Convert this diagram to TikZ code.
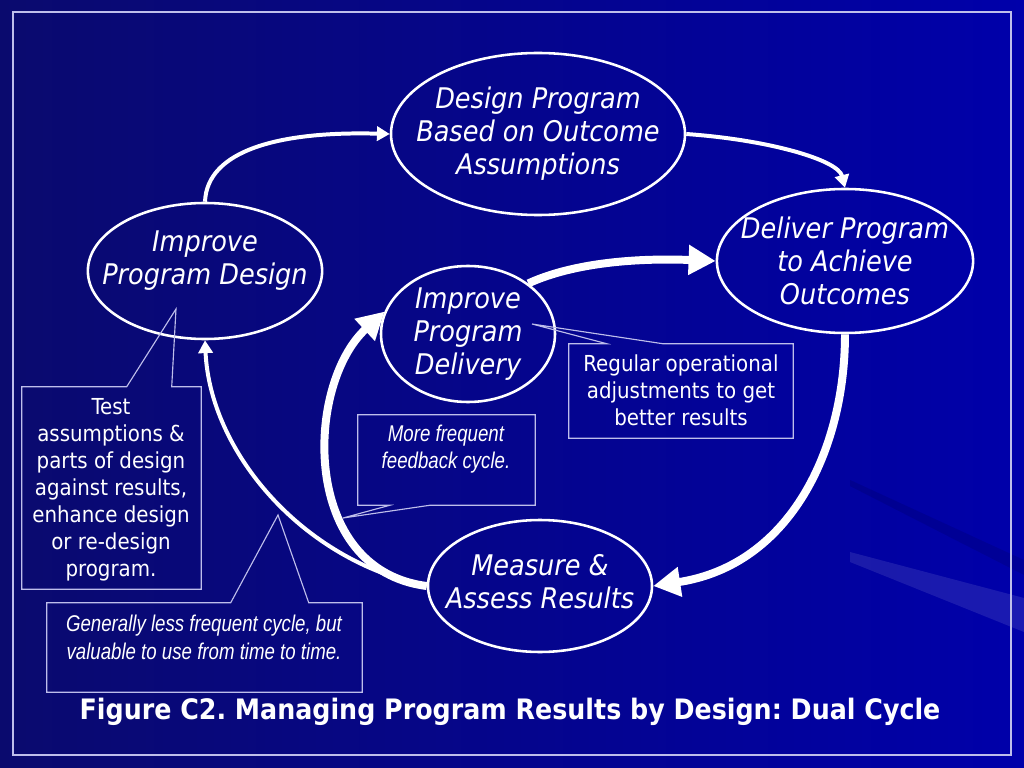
\documentclass[tikz,border=0pt]{standalone}
\usepackage{fontspec}
\setmainfont{DejaVu Sans Condensed}[ItalicFont={DejaVu Sans Condensed Oblique},BoldFont={DejaVu Sans Condensed Bold}]
\newfontfamily\narrowfont{Liberation Sans}[FakeStretch=0.82]
\usetikzlibrary{shapes.geometric,arrows.meta,calc,positioning}

\definecolor{slidedark}{RGB}{10,10,110}
\definecolor{slideblue}{RGB}{0,0,170}
\definecolor{framegray}{RGB}{190,190,235}
\newcommand\pxu{0.703125pt}

\tikzset{
  stage/.style={ellipse, draw=white, line width=1.8pt, text=white, inner sep=0pt, align=center,
    font=\fontsize{20}{23.2}\selectfont\itshape},
  note/.style={text=white, align=center, font=\fontsize{15.5}{19}\selectfont},
  quicknote/.style={text=white, align=center, font=\narrowfont\fontsize{16}{19.5}\selectfont\itshape},
  notebox/.style={inner sep=0pt},
  frame/.style={draw=framegray, line width=0.8pt},
  slow arrow/.style={draw=white, line width=2.8pt, -{Triangle[length=9pt,width=10pt]}},
  fast arrow/.style={draw=white, line width=5.6pt, -{Triangle[length=19pt,width=20pt]}},
}

\begin{document}
\begin{tikzpicture}[x=0.703125pt, y=-0.703125pt]
\useasboundingbox (0,0) rectangle (1024,768);
% slide background
\shade[left color=slidedark, right color=slideblue] (0,0) rectangle (1024,768);
\fill[white, opacity=0.10] (1024,598) -- (850,552) -- (850,562) -- (1024,632) -- cycle;
\fill[black, opacity=0.10] (1024,560) -- (850,480) -- (850,486) -- (1024,575) -- cycle;
\draw[frame] (13,12) rectangle (1011,755);

% the five stages
\node[stage, minimum width=294*\pxu, minimum height=162*\pxu, inner xsep=-12.7pt] (design) at (538,134) {Design Program\\Based on Outcome\\Assumptions};
\node[stage, minimum width=232*\pxu, minimum height=136*\pxu, inner xsep=-14pt, text depth=19pt] (redesign) at (205,271) {Improve\\Program Design};
\node[stage, minimum width=256*\pxu, minimum height=144*\pxu, inner xsep=-9.5pt] (deliver) at (845,261) {Deliver Program\\to Achieve\\Outcomes};
\node[stage, minimum width=174*\pxu, minimum height=136*\pxu] (tune) at (468,334) {Improve\\Program\\Delivery};
\node[stage, minimum width=224*\pxu, minimum height=132*\pxu, inner xsep=-10.5pt, text depth=7pt] (measure) at (540,586) {Measure \&\\Assess Results};

% outer cycle
\draw[slow arrow] (redesign.north) .. controls (207,150) and (280,131) .. (design.west);
\draw[slow arrow] (design.east) .. controls (770,140) and (838,160) .. (deliver.north);
\draw[fast arrow] (deliver.south) .. controls (845,450) and (790,565) .. (measure.east);
\draw[slow arrow] (measure.west) .. controls (300,560) and (210,450) .. (redesign.south);
% inner cycle
\draw[fast arrow] (measure.west) .. controls (300,570) and (305,385) .. (tune.165);
\draw[fast arrow] (tune.40) .. controls (575,262) and (640,258) .. (deliver.west);

% callouts
\node[notebox, minimum width=179*\pxu, minimum height=202*\pxu] (testbox) at (111.5,488) {};
\node[note] (testtext) at (111,490) {Test\\assumptions \&\\parts of design\\against results,\\enhance design\\or re-design\\program.};
\coordinate (testtip) at (176,309);
\draw[frame] (testbox.north west) -- ($(testbox.north west)+(105,0)$) -- (testtip)
  -- ($(testbox.north west)+(150,0)$) -- (testbox.north east) -- (testbox.south east)
  -- (testbox.south west) -- cycle;

\node[notebox, minimum width=315*\pxu, minimum height=89*\pxu] (slowbox) at (204.5,647.5) {};
\node[quicknote] (slowtext) at (204,637) {Generally less frequent cycle, but\\valuable to use from time to time.};
\coordinate (slowtip) at (278,515);
\draw[frame] (slowbox.north west) -- ($(slowbox.north west)+(184,0)$) -- (slowtip)
  -- ($(slowbox.north west)+(262,0)$) -- (slowbox.north east) -- (slowbox.south east)
  -- (slowbox.south west) -- cycle;

\node[notebox, minimum width=177*\pxu, minimum height=90*\pxu] (fastbox) at (446.5,460) {};
\node[quicknote] (fasttext) at (446,449) {More frequent\\feedback cycle.};
\coordinate (fasttip) at (343,518);
\draw[frame] (fastbox.north west) -- (fastbox.north east) -- (fastbox.south east)
  -- ($(fastbox.south west)+(72,0)$) -- (fasttip) -- ($(fastbox.south west)+(32,0)$)
  -- (fastbox.south west) -- cycle;

\node[notebox, minimum width=224*\pxu, minimum height=94*\pxu] (tunebox) at (681,391) {};
\node[note] (tunetext) at (681,390.5) {Regular operational\\adjustments to get\\better results};
\coordinate (tunetip) at (532,324);
\draw[frame] (tunebox.north west) -- ($(tunebox.north west)+(38,0)$) -- (tunetip)
  -- ($(tunebox.north west)+(94,0)$) -- (tunebox.north east) -- (tunebox.south east)
  -- (tunebox.south west) -- cycle;

% caption
\node[text=white, font=\bfseries\fontsize{19.8}{24}\selectfont\frenchspacing] (caption) at (510,712) {Figure C2. Managing Program Results by Design: Dual Cycle};
\end{tikzpicture}
\end{document}
